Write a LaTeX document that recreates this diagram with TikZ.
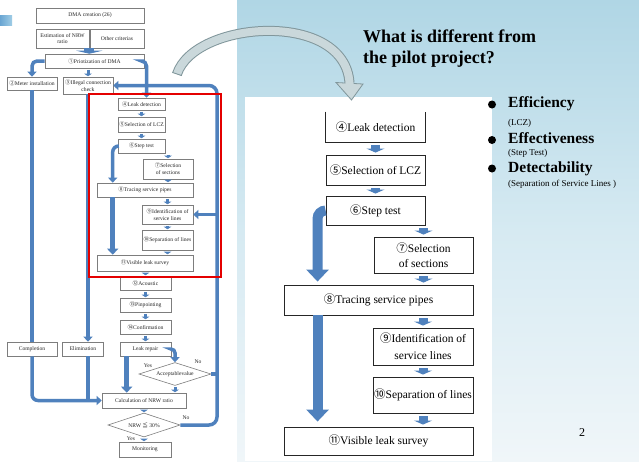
\documentclass[tikz,border=0pt]{standalone}
\usepackage{fontspec}
\setmainfont{Liberation Serif}
\newfontfamily\cjkf{Noto Sans CJK JP}
\usetikzlibrary{arrows.meta,calc,shapes.geometric}
\definecolor{oblue}{RGB}{79,129,189}
\definecolor{redbox}{RGB}{228,0,0}
\definecolor{lgray}{RGB}{125,125,125}
\definecolor{bgtop}{RGB}{176,214,229}
\definecolor{bgmid}{RGB}{214,234,242}
\definecolor{bgbot}{RGB}{240,246,249}
\definecolor{gfill}{RGB}{202,216,219}
\definecolor{gline}{RGB}{128,150,155}
\definecolor{barA}{RGB}{105,165,210}
\definecolor{barB}{RGB}{160,205,230}
\newcommand\cnum[1]{{\cjkf #1}}
\tikzset{
  sbox/.style={draw=lgray, line width=0.6pt, inner sep=0pt, fill=white, text=black!85,
    font=\fontsize{5.6}{6.8}\selectfont, align=center},
  sdia/.style={sbox, diamond, aspect=3},
  bbox/.style={draw=black!85, line width=0.9pt, inner sep=0pt, fill=white,
    font=\fontsize{11.5}{15}\selectfont, align=center},
  thk/.style={draw=oblue, line width=3.5pt, -{Triangle[width=9pt,length=5pt]}},
  thkline/.style={draw=oblue, line width=3.5pt},
  fatarr/.style={draw=oblue, line width=4.5pt, -{Triangle[width=11pt,length=6pt]}},
  sarr/.style={draw=oblue, line width=3pt, -{Triangle[width=7.5pt,length=2.5pt]}, shorten <=1.5pt, shorten >=0.5pt},
  wideblk/.style={draw=oblue, line width=10pt, -{Triangle[width=26pt,length=3pt]}},
  blk/.style={draw=oblue, line width=9pt, -{Triangle[width=18pt,length=4pt]}, shorten <=3pt, shorten >=2pt},
  bigarr/.style={draw=oblue, line width=10pt, -{Triangle[width=22pt,length=12pt]}},
  lab/.style={font=\fontsize{5.6}{6.8}\selectfont, inner sep=0pt, text=black!85},
}
\begin{document}
\begin{tikzpicture}[x=1pt,y=-1pt]
\useasboundingbox (0,0) rectangle (639,461);
% backgrounds
\fill[white] (0,0) rectangle (639,461);
\shade[top color=bgtop, bottom color=bgbot, middle color=bgmid] (237,0) rectangle (639,461);
\fill[white] (245,97) rectangle (492,461);
\shade[left color=barA, right color=barB] (0,15) rectangle (12,25);

% ---------------- left (small) flowchart ----------------
\node[sbox, minimum width=108pt, minimum height=15pt] (dma) at (90,15.5) {DMA creation (26)};
\node[sbox, minimum width=53pt, minimum height=19pt] (est) at (62.5,38.5) {Estimation of NRW\\ratio};
\node[sbox, minimum width=54pt, minimum height=19pt] (oth) at (117,38.5) {Other criterias};
\node[sbox, minimum width=99pt, minimum height=14pt] (pri) at (94.5,61) {\cnum{①}Priotization of DMA};
\node[sbox, minimum width=50pt, minimum height=13pt] (met) at (32,83.5) {\cnum{②}Meter installation};
\node[sbox, minimum width=50pt, minimum height=17pt] (ill) at (88,85.5) {\cnum{③}Illegal connection\\check};
\node[sbox, minimum width=47pt, minimum height=12pt] (lk) at (141.5,104) {\cnum{④}Leak detection};
\node[sbox, minimum width=47pt, minimum height=15pt] (lcz) at (141.5,124.5) {\cnum{⑤}Selection of LCZ};
\node[sbox, minimum width=47pt, minimum height=14pt] (st) at (141.5,146) {\cnum{⑥}Step test};
\node[sbox, minimum width=50pt, minimum height=20pt] (sec) at (168,169) {\cnum{⑦}Selection\\of sections};
\node[sbox, minimum width=96pt, minimum height=14pt] (tr) at (145,190) {\cnum{⑧}Tracing service pipes};
\node[sbox, minimum width=51pt, minimum height=19pt] (id) at (167.5,214.5) {\cnum{⑨}Identification of\\service lines};
\node[sbox, minimum width=51pt, minimum height=20pt] (sep) at (167.5,240) {\cnum{⑩}Separation of lines};
\node[sbox, minimum width=96pt, minimum height=16pt] (vis) at (145,263) {\cnum{⑪}Visible leak survey};
\node[sbox, minimum width=51pt, minimum height=14pt] (ac) at (145.5,283) {\cnum{⑫}Acoustic};
\node[sbox, minimum width=51pt, minimum height=14pt] (pin) at (145.5,305) {\cnum{⑬}Pinpointing};
\node[sbox, minimum width=51pt, minimum height=14pt] (con) at (145.5,327) {\cnum{⑭}Confirmation};
\node[sbox, minimum width=51pt, minimum height=14pt] (rep) at (145.5,349) {Leak repair};
\node[sbox, minimum width=50pt, minimum height=14pt] (comp) at (32,349) {Completion};
\node[sbox, minimum width=41pt, minimum height=14pt] (elim) at (83,349) {Elimination};
\node[sdia, minimum width=72pt, minimum height=23pt] (acc) at (175,374) {Acceptablevalue};
\node[sbox, minimum width=84pt, minimum height=15pt] (calc) at (144,400.5) {Calculation of NRW ratio};
\node[sdia, minimum width=72pt, minimum height=24pt] (nrw) at (144,425) {NRW \cnum{≦} 30\%};
\node[sbox, minimum width=52pt, minimum height=15pt] (mon) at (145,449.5) {Monitoring};

\coordinate (lp) at (217,300);

% left connectors
\draw[wideblk] (est.south east) -- (est.south east |- pri.north);
\draw[thk, rounded corners=5pt] (pri.west) -| (met.north);
\draw[sarr] (pri.south -| ill.north) -- (ill.north);
\draw[thk, rounded corners=5pt] (pri.east) -| ([xshift=5pt]lk.north);
\draw[thk, rounded corners=8pt] (nrw.east) -| (lp |- ill.east) -- (ill.east);
\draw[thkline] (acc.east) -- (acc.east -| lp);
\draw[thk] (id.east -| lp) -- (id.east);
\draw[thk, rounded corners=6pt] (st.west) -| ([xshift=16pt]tr.north west);
\draw[fatarr] ([xshift=16pt]tr.south west) -- ([xshift=16pt]vis.north west);
\draw[sarr] (lk.south) -- (lcz.north);
\draw[sarr] (lcz.south) -- (st.north);
\draw[sarr] (sec.north |- st.south) -- (sec.north);
\draw[sarr] (sec.south) -- (sec.south |- tr.north);
\draw[sarr] (id.north |- tr.south) -- (id.north);
\draw[sarr] (id.south) -- (sep.north);
\draw[sarr] (sep.south) -- (sep.south |- vis.north);
\draw[sarr] (ac.north |- vis.south) -- (ac.north);
\draw[sarr] (ac.south) -- (pin.north);
\draw[sarr] (pin.south) -- (con.north);
\draw[sarr] (con.south) -- (rep.north);
\draw[thk, rounded corners=4pt] (rep.east) -| (acc.north);
\draw[fatarr] ([xshift=7pt]rep.south west) -- ([xshift=7pt]rep.south west |- calc.north);
\draw[sarr] (acc.south) -- (acc.south |- calc.north);
\draw[sarr] (calc.south) -- (nrw.north);
\draw[sarr] (nrw.south) -- (nrw.south |- mon.north);
\draw[thkline] (met.south) -- (comp.north);
\draw[thk] (ill.south) -- (ill.south |- elim.north);
\draw[thk, rounded corners=6pt] (comp.south) |- (calc.west);
\draw[thkline] (ill.south |- elim.south) -- (ill.south |- calc.west);

\node[lab] (y1) at (148,366) {Yes};
\node[lab] (n1) at (198,362) {No};
\node[lab] (n2) at (186,418) {No};
\node[lab] (y2) at (131,438.5) {Yes};

% red highlight
\draw[redbox, line width=2pt] (89,94) rectangle (221,277);

% ---------------- gray curved arrow ----------------
\draw[gline, line width=10pt] (177,74) .. controls (195,20) and (345,10) .. (349.5,83);
\filldraw[fill=gfill, draw=gline, line width=0.8pt] (336,82.5) -- (363,84) -- (351.5,100) -- cycle;
\draw[gfill, line width=8pt] (177,74) .. controls (195,20) and (345,10) .. (349.5,83) -- (349.6,86);
\draw[gline, line width=0.9pt] (172.2,72.4) -- (181.8,75.6);

% ---------------- right (enlarged) flowchart ----------------
\node[bbox, draw=none, minimum width=99pt, minimum height=30pt] (r4) at (375.5,127) {\cnum{④}Leak detection};
\draw[black!85, line width=0.9pt] (r4.north west) -- (r4.south west) -- (r4.south east) -- (r4.north east);
\node[bbox, minimum width=99pt, minimum height=30pt] (r5) at (375.5,170) {\cnum{⑤}Selection of LCZ};
\node[bbox, minimum width=99pt, minimum height=29pt] (r6) at (375.5,210.5) {\cnum{⑥}Step test};
\node[bbox, minimum width=99pt, minimum height=36pt] (r7) at (423.5,255) {\cnum{⑦}Selection\\of sections};
\node[bbox, minimum width=189pt, minimum height=30pt] (r8) at (378.5,300) {\cnum{⑧}Tracing service pipes};
\node[bbox, minimum width=100pt, minimum height=37pt, font=\fontsize{11.5}{17}\selectfont] (r9) at (423,346.5) {\cnum{⑨}Identification of\\service lines};
\node[bbox, minimum width=100pt, minimum height=36pt] (r10) at (423,395) {\cnum{⑩}Separation of lines};
\node[bbox, minimum width=189pt, minimum height=28pt] (r11) at (378.5,441) {\cnum{⑪}Visible leak survey};

\draw[blk] (r4.south) -- (r5.north);
\draw[blk] (r5.south) -- (r6.north);
\draw[blk] (r7.north |- r6.south) -- (r7.north);
\draw[blk] (r7.south) -- (r7.south |- r8.north);
\draw[blk] (r9.north |- r8.south) -- (r9.north);
\draw[blk] (r9.south) -- (r10.north);
\draw[blk] (r10.south) -- (r10.south |- r11.north);
\draw[bigarr, rounded corners=8pt, shorten >=3pt] (r6.west) -| ([xshift=34pt]r8.north west);
\draw[bigarr, shorten >=5pt] ([xshift=34pt]r8.south west) -- ([xshift=34pt]r11.north west);

% ---------------- title and bullets ----------------
\node[font=\fontsize{18}{21}\selectfont\bfseries, align=left, anchor=north west, inner sep=0pt] (title) at (363,29.5) {What is different from\\the pilot project?};

\node[circle, fill=black, minimum size=8pt, inner sep=0pt] (d1) at (492,104.5) {};
\node[circle, fill=black, minimum size=8pt, inner sep=0pt] (d2) at (492,140) {};
\node[circle, fill=black, minimum size=8pt, inner sep=0pt] (d3) at (492,168.5) {};
\node[anchor=base west, inner sep=0pt, font=\fontsize{15.5}{18}\selectfont\bfseries] (b1) at (508,107.5) {Efficiency};
\node[anchor=base west, inner sep=0pt, font=\fontsize{9}{10}\selectfont] (s1) at (508,125) {(LCZ)};
\node[anchor=base west, inner sep=0pt, font=\fontsize{15.5}{18}\selectfont\bfseries] (b2) at (508,143.5) {Effectiveness};
\node[anchor=base west, inner sep=0pt, font=\fontsize{9}{10}\selectfont] (s2) at (508,155.5) {(Step Test)};
\node[anchor=base west, inner sep=0pt, font=\fontsize{15.5}{18}\selectfont\bfseries] (b3) at (508,172) {Detectability};
\node[anchor=base west, inner sep=0pt, font=\fontsize{9}{10}\selectfont] (s3) at (508,186) {(Separation of Service Lines )};

\node[inner sep=0pt, font=\fontsize{12}{14}\selectfont] (pg) at (582,433) {2};
\end{tikzpicture}
\end{document}
